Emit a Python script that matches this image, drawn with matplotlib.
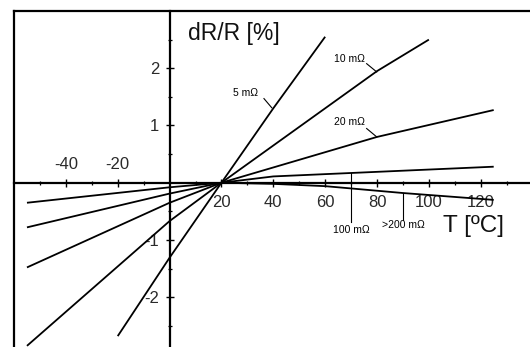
import matplotlib
matplotlib.use('Agg')
import matplotlib.pyplot as plt
from matplotlib.lines import Line2D
from matplotlib.ticker import FixedLocator

plt.rcParams['font.family'] = ['Liberation Sans', 'DejaVu Sans']

# curves: temperature [C] and dR/R [%]
t_5 = [-20, 0, 20, 40, 60]
r_5 = [-2.68, -1.31, 0.0, 1.30, 2.55]

t_10 = [-55, 0, 20, 80, 100]
r_10 = [-2.85, -0.67, 0.0, 1.95, 2.50]

t_20 = [-55, 0, 20, 80, 125]
r_20 = [-1.48, -0.35, 0.0, 0.80, 1.27]

t_100 = [-55, 0, 20, 40, 70, 125]
r_100 = [-0.78, -0.19, 0.0, 0.11, 0.17, 0.28]

t_200 = [-55, 0, 20, 40, 60, 90, 125]
r_200 = [-0.35, -0.08, 0.0, -0.02, -0.06, -0.18, -0.30]

x_major = [-40, -20, 20, 40, 60, 80, 100, 120]
x_minor = [-50, -30, -10, 10, 30, 50, 70, 90, 110, 130]
y_major = [-2, -1, 1, 2]
y_minor = [-2.5, -1.5, -0.5, 0.5, 1.5, 2.5]

fig = plt.figure(figsize=(5.3, 3.47), dpi=100)
ax = fig.add_axes([14 / 530, 0, 516 / 530, 336 / 347])
ax.set_xlim(-60, 139)
ax.set_ylim(-2.87, 3.0)

lw = 1.3
for t, r in [(t_5, r_5), (t_10, r_10), (t_20, r_20), (t_100, r_100), (t_200, r_200)]:
    ax.plot(t, r, color='black', lw=lw, solid_capstyle='butt')

# axes through the origin
ax.spines['left'].set_position(('data', 0))
ax.spines['bottom'].set_position(('data', 0))
ax.spines['top'].set_visible(False)
ax.spines['right'].set_visible(False)
for s in ('left', 'bottom'):
    ax.spines[s].set_linewidth(1.6)

ax.set_xticks(x_major, labels=[str(v) if v > 0 else '' for v in x_major])
ax.xaxis.set_minor_locator(FixedLocator(x_minor))
ax.set_yticks(y_major, labels=[str(v) for v in y_major])
ax.yaxis.set_minor_locator(FixedLocator(y_minor))
ax.tick_params(which='major', direction='inout', length=6, width=1.0,
               labelsize=12, labelcolor='#2a2a2a')
ax.tick_params(which='minor', direction='inout', length=3.5, width=0.9)
ax.tick_params(axis='x', which='major', pad=6)
ax.tick_params(axis='y', which='major', pad=4.5)

# negative temperatures are labelled above the axis
for v in x_major:
    if v < 0:
        ax.annotate(str(v), (v, 0), xytext=(0, 8), textcoords='offset points',
                    ha='center', va='bottom', fontsize=12, color='#2a2a2a')

ax.text(7.1, 2.61, 'dR/R [%]', fontsize=16.5, ha='left', va='center', color='#111111')
ax.text(117.4, -0.76, 'T [ºC]', fontsize=17.5, ha='center', va='center', color='#111111')

# curve labels with leader lines
small = 7.5
ax.text(29.3, 1.57, '5 mΩ', fontsize=small, ha='center', va='center')
ax.plot([36.4, 39.4], [1.47, 1.31], color='black', lw=0.8)
ax.text(69.3, 2.17, '10 mΩ', fontsize=small, ha='center', va='center')
ax.plot([76.0, 79.9], [2.08, 1.935], color='black', lw=0.8)
ax.text(69.3, 1.06, '20 mΩ', fontsize=small, ha='center', va='center')
ax.plot([76.0, 79.9], [0.947, 0.80], color='black', lw=0.8)
ax.text(70.2, -0.82, '100 mΩ', fontsize=small, ha='center', va='center')
ax.plot([70, 70], [0.17, -0.685], color='black', lw=0.8)
ax.text(90.1, -0.73, '>200 mΩ', fontsize=small, ha='center', va='center')
ax.plot([90, 90], [-0.18, -0.655], color='black', lw=0.8)

# outer frame (left and top edges)
fig.add_artist(Line2D([14 / 530, 14 / 530], [0, 1 - 11 / 347], transform=fig.transFigure,
                      color='black', lw=1.6))
fig.add_artist(Line2D([14 / 530, 1], [1 - 11 / 347, 1 - 11 / 347], transform=fig.transFigure,
                      color='black', lw=1.6))

fig.savefig('out.png', dpi=100)
